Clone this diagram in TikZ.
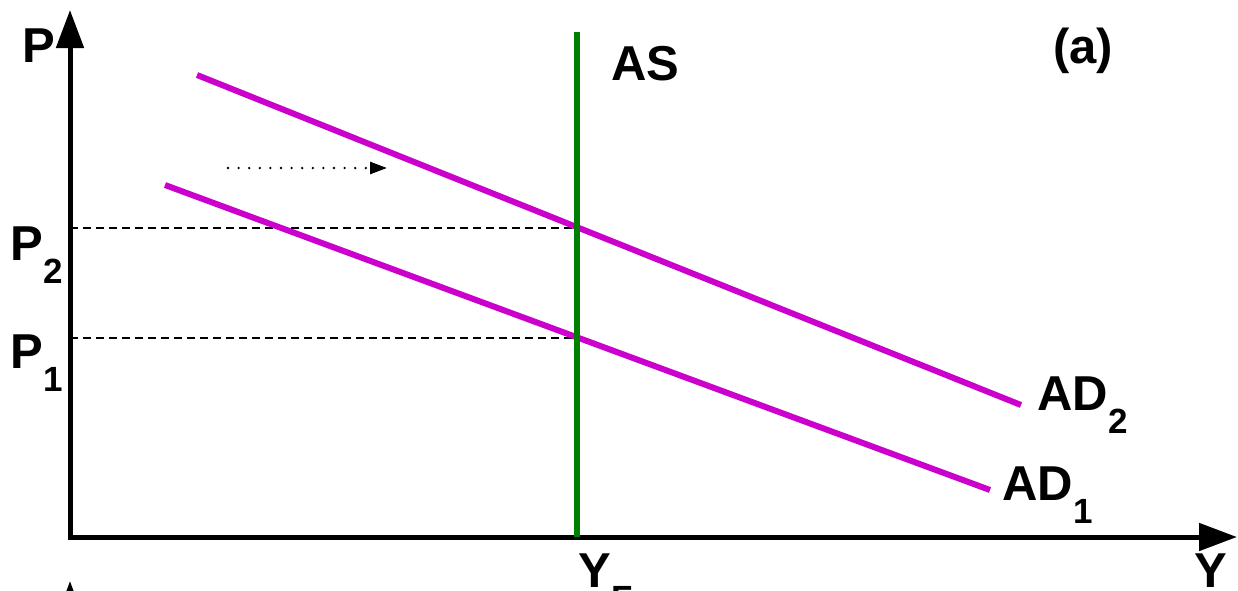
\documentclass[tikz,border=0pt]{standalone}
\usepackage{fontspec}
\setmainfont{Liberation Sans}
\usetikzlibrary{arrows.meta,positioning}
\definecolor{admag}{RGB}{204,0,204}
\definecolor{asgreen}{RGB}{0,128,0}
\newcommand{\lowsub}[1]{\raisebox{-11.5pt}{\fontsize{17.5}{17.5}\selectfont #1}}

\begin{document}
\begin{tikzpicture}[
    x=0.5pt, y=-0.5pt,
    axis/.style={line width=2.5pt, {Triangle[length=19pt,width=13.5pt]}-{Triangle[length=19pt,width=13.5pt]}},
    tipaxis/.style={line width=2.5pt, -{Triangle[length=19pt,width=13.5pt]}},
    adline/.style={line width=3pt, draw=admag},
    asline/.style={line width=3pt, draw=asgreen},
    guide/.style={line width=0.75pt, dash pattern=on 4pt off 2.5pt},
    shiftarr/.style={line width=1.3pt, line cap=round, dash pattern=on 0pt off 5.3pt,
                     -{Triangle[length=8.5pt,width=6pt]}},
    lbl/.style={font=\fontsize{24.5}{24.5}\selectfont\bfseries, inner sep=0pt, anchor=base west},
]
\useasboundingbox (0,0) rectangle (1238,590);
\clip (0,0) rectangle (1238,590);

% axes
\coordinate (ytip) at (70,10);
\coordinate (orig) at (70,537);
\coordinate (xtip) at (1237,537);
\draw[axis] (ytip) -- (orig) -- (xtip);

% next panel (cut off)
\coordinate (nexttip) at (70,581);
\coordinate (nextfoot) at (70,700);
\draw[tipaxis] (nextfoot) -- (nexttip);

% curves
\coordinate (ad2a) at (197,75);
\coordinate (ad2b) at (1021,405);
\coordinate (ad1a) at (165,185);
\coordinate (ad1b) at (990,490);
\coordinate (astop) at (577,32);
\coordinate (asfoot) at (577,537);
\coordinate (e2) at (577,228);
\coordinate (e1) at (577,338);
\coordinate (p2ax) at (70,228);
\coordinate (p1ax) at (70,338);

\draw[guide] (p2ax) -- (e2);
\draw[guide] (p1ax) -- (e1);
\draw[adline] (ad2a) -- (ad2b);
\draw[adline] (ad1a) -- (ad1b);
\draw[asline] (astop) -- (asfoot);

% shift
\coordinate (shfrom) at (228,168);
\coordinate (shto) at (387,168);
\draw[shiftarr] (shfrom) -- (shto);

% labels
\node[lbl] (plab) at (22,62) {P};
\node[lbl] (panel) at (1053,63) {(a)};
\node[lbl] (aslab) at (611,80) {AS};
\node[lbl] (p2lab) at (10,260) {P\lowsub{2}};
\node[lbl] (p1lab) at (10,368) {P\lowsub{1}};
\node[lbl] (ad2lab) at (1037,410) {AD\lowsub{2}};
\node[lbl] (ad1lab) at (1002,500) {AD\lowsub{1}};
\node[lbl] (yflab) at (578,587) {Y\lowsub{F}};
\node[lbl] (ylab) at (1194,587) {Y};
\end{tikzpicture}
\end{document}
